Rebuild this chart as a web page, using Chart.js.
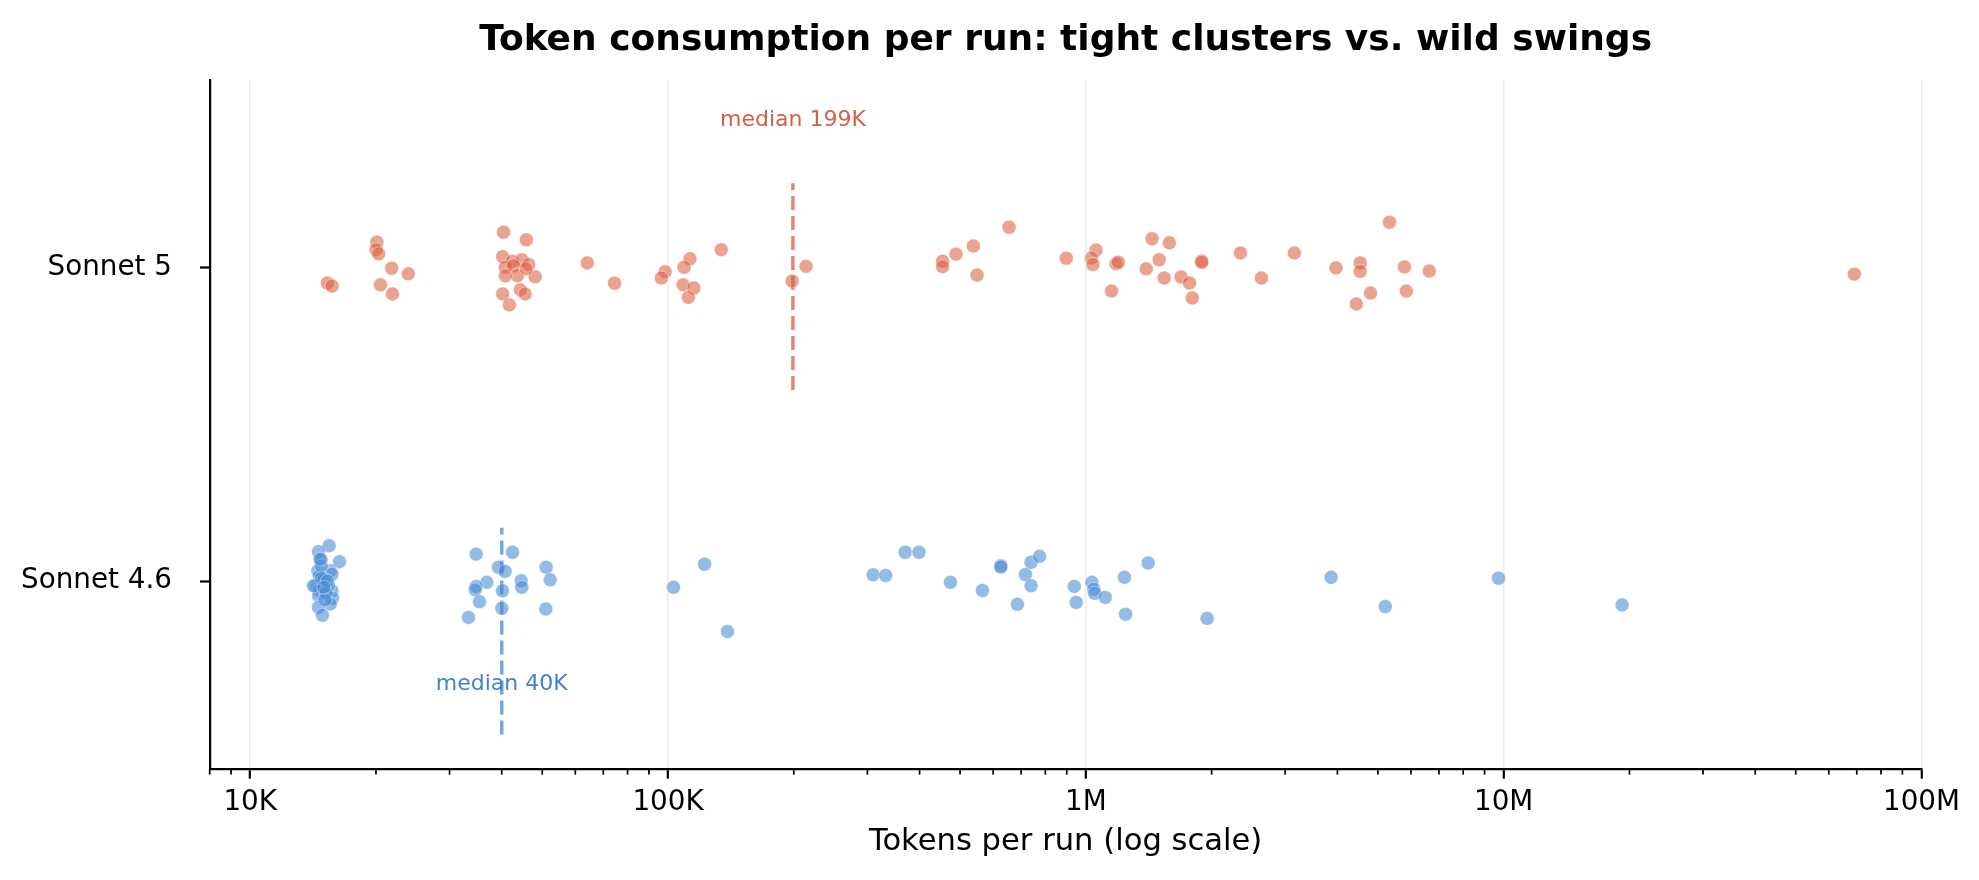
<!DOCTYPE html>
<html>
<head>
<meta charset="utf-8">
<script src="https://cdn.jsdelivr.net/npm/chart.js@4.4.1/dist/chart.umd.min.js"></script>
<style>
  html, body { margin: 0; padding: 0; background: #fff; }
</style>
</head>
<body>
<canvas id="chart" width="1979" height="880"></canvas>
<script>
const models = ["Sonnet 4.6", "Sonnet 5"];

// tokens per run, and vertical jitter around each model's row
const sonnet5Tokens = [15300, 15700, 20100, 20000, 20300, 21800, 23900, 20500, 21900,
  40400, 45800, 40200, 42400, 44700, 46400, 40800, 42700, 43600, 40800, 48100, 40200, 44300, 45500, 41700, 45800,
  64100, 74500, 98400, 96400, 112900, 109300, 108700, 115300, 111900, 134100, 198200, 214000,
  454000, 454000, 489000, 538000, 549000, 655000, 898000, 1058000, 1032000, 1040000, 1181000, 1196000, 1152000,
  1440000, 1584000, 1498000, 1395000, 1540000, 1690000, 1771000, 1798000, 1894000, 1894000,
  2344000, 2632000, 3155000, 3969000, 4535000, 4535000, 4801000, 4439000, 5329000, 5787000, 6637000, 5848000, 69070000];
const sonnet5Jitter = [-0.048, -0.058, 0.082, 0.058, 0.045, -0.001, -0.019, -0.054, -0.083,
  0.114, 0.090, 0.036, 0.021, 0.026, 0.011, 0.002, 0.007, -0.025, -0.025, -0.028, -0.083, -0.070, -0.083, -0.118, -0.003,
  0.016, -0.049, -0.012, -0.032, 0.029, 0.002, -0.054, -0.064, -0.094, 0.058, -0.042, 0.005,
  0.021, 0.004, 0.044, 0.070, -0.023, 0.130, 0.031, 0.057, 0.032, 0.011, 0.013, 0.018, -0.074,
  0.093, 0.080, 0.026, -0.003, -0.032, -0.029, -0.048, -0.096, 0.022, 0.018,
  0.048, -0.032, 0.048, 0.000, 0.016, -0.011, -0.080, -0.115, 0.146, 0.003, -0.010, -0.074, -0.020];

const sonnet46Tokens = [15450, 14570, 16360, 14790, 15540, 14520, 14630, 15690, 14360, 14630, 15690, 15390, 15740,
  14570, 15540, 14570, 14890, 15030, 14170, 15200, 14790, 15100, 14800, 15300, 15000, 14700,
  34740, 42440, 39280, 40750, 36850, 34740, 34550, 44520, 44680, 40150, 51090, 52240, 35380, 40020, 51000, 33300,
  103100, 122300, 138800, 309600, 331800, 369500, 398700, 474100, 565600, 626000, 626000, 685700, 716600, 739400,
  774900, 739400, 938700, 948400, 1034000, 1045000, 1050000, 1113000, 1237000, 1410000, 1245000, 1951000,
  3864000, 5208000, 9719000, 19200000];
const sonnet46Jitter = [0.113, 0.094, 0.062, 0.068, 0.033, 0.033, 0.017, 0.022, -0.015, -0.031, -0.031, -0.015, -0.055,
  -0.047, -0.073, -0.084, -0.109, 0.006, -0.015, -0.038, 0.048, -0.060, 0.010, 0.000, -0.020, 0.070,
  0.086, 0.092, 0.044, 0.031, -0.004, -0.017, -0.028, 0.001, -0.020, -0.031, 0.044, 0.004, -0.066, -0.087, -0.089, -0.116,
  -0.020, 0.054, -0.161, 0.020, 0.018, 0.092, 0.092, -0.004, -0.030, 0.049, 0.045, -0.074, 0.021, 0.060,
  0.079, -0.015, -0.017, -0.068, -0.004, -0.026, -0.039, -0.052, 0.012, 0.058, -0.106, -0.119,
  0.012, -0.081, 0.009, -0.076];

const medians = [40000, 199000];
const medianLabels = ["median 40K", "median 199K"];
const medianSpans = [[-0.49, 0.17], [0.61, 1.27]];
const medianLabelY = [-0.33, 1.47];

const decadeTicks = [1e4, 1e5, 1e6, 1e7, 1e8];
const decadeLabels = ["10K", "100K", "1M", "10M", "100M"];

const redText = "rgb(212, 96, 70)";
const blueText = "rgb(66, 132, 204)";
const redFill = "rgba(218, 94, 66, 0.58)";
const blueFill = "rgba(70, 138, 212, 0.58)";
const redLine = "rgba(218, 94, 66, 0.75)";
const blueLine = "rgba(70, 138, 212, 0.75)";

Chart.defaults.font.family = "'DejaVu Sans', sans-serif";
Chart.defaults.color = "#000";

const toPoints = (tokens, jitter, row) => tokens.map((v, i) => ({ x: v, y: row + jitter[i] }));

// minor log ticks + median text
const extras = {
  id: "extras",
  afterDraw(chart) {
    const ctx = chart.ctx;
    const xs = chart.scales.x, ys = chart.scales.y;
    const base = chart.chartArea.bottom;
    ctx.save();
    ctx.strokeStyle = "#000";
    ctx.lineWidth = 1.7;
    for (let d = 1e3; d < 1e8; d *= 10) {
      for (let m = 2; m <= 9; m++) {
        const v = d * m;
        if (v < xs.min || v > xs.max) continue;
        const px = xs.getPixelForValue(v);
        ctx.beginPath();
        ctx.moveTo(px, base);
        ctx.lineTo(px, base + 5.6);
        ctx.stroke();
      }
    }
    ctx.font = "22px 'DejaVu Sans', sans-serif";
    ctx.textAlign = "center";
    ctx.textBaseline = "middle";
    [blueText, redText].forEach((c, i) => {
      ctx.fillStyle = c;
      ctx.fillText(medianLabels[i], xs.getPixelForValue(medians[i]), ys.getPixelForValue(medianLabelY[i]));
    });
    ctx.restore();
  }
};

new Chart(document.getElementById("chart"), {
  type: "scatter",
  data: {
    datasets: [
      {
        label: "Sonnet 5",
        data: toPoints(sonnet5Tokens, sonnet5Jitter, 1),
        backgroundColor: redFill,
        borderColor: "rgba(255,255,255,0.55)",
        borderWidth: 0.8,
        pointRadius: 7
      },
      {
        label: "Sonnet 4.6",
        data: toPoints(sonnet46Tokens, sonnet46Jitter, 0),
        backgroundColor: blueFill,
        borderColor: "rgba(255,255,255,0.55)",
        borderWidth: 0.8,
        pointRadius: 7
      },
      {
        type: "line",
        data: medianSpans[1].map((y) => ({ x: medians[1], y: y })),
        borderColor: redLine,
        borderWidth: 3.5,
        borderDash: [14, 6],
        pointRadius: 0
      },
      {
        type: "line",
        data: medianSpans[0].map((y) => ({ x: medians[0], y: y })),
        borderColor: blueLine,
        borderWidth: 3.5,
        borderDash: [14, 6],
        pointRadius: 0
      }
    ]
  },
  options: {
    responsive: false,
    animation: false,
    devicePixelRatio: 1,
    layout: { padding: { left: 0, right: 57.5, top: 0, bottom: 0 } },
    plugins: {
      legend: { display: false },
      tooltip: { enabled: false },
      title: {
        display: true,
        fullSize: false,
        text: "Token consumption per run: tight clusters vs. wild swings",
        color: "#000",
        font: { size: 36, weight: "bold" },
        padding: { top: 19, bottom: 17.8 }
      }
    },
    scales: {
      x: {
        type: "logarithmic",
        min: 8000,
        max: 1e8,
        afterBuildTicks: (scale) => {
          scale.ticks = decadeTicks.map((v) => ({ value: v }));
        },
        afterFit: (scale) => { scale.height = 111; },
        ticks: {
          autoSkip: false,
          maxRotation: 0,
          padding: 7,
          font: { size: 27.8 },
          color: "#000",
          callback: (v) => decadeLabels[decadeTicks.indexOf(v)]
        },
        grid: {
          color: "rgba(0,0,0,0.08)",
          lineWidth: 1.6,
          tickColor: "#000",
          tickWidth: 2.2,
          tickLength: 9.7
        },
        border: { color: "#000", width: 2.2 },
        title: {
          display: true,
          text: "Tokens per run (log scale)",
          color: "#000",
          font: { size: 30.6 },
          padding: { top: 0, bottom: 20 }
        }
      },
      y: {
        type: "linear",
        min: -0.6,
        max: 1.6,
        afterBuildTicks: (scale) => {
          scale.ticks = [{ value: 0 }, { value: 1 }];
        },
        afterFit: (scale) => { scale.width = 209.7; },
        ticks: {
          padding: 28,
          font: { size: 27.8 },
          color: "#000",
          callback: (v) => models[v]
        },
        grid: {
          drawOnChartArea: false,
          tickColor: "#000",
          tickWidth: 2.2,
          tickLength: 9.7
        },
        border: { color: "#000", width: 2.2 }
      }
    }
  },
  plugins: [extras]
});
</script>
</body>
</html>
